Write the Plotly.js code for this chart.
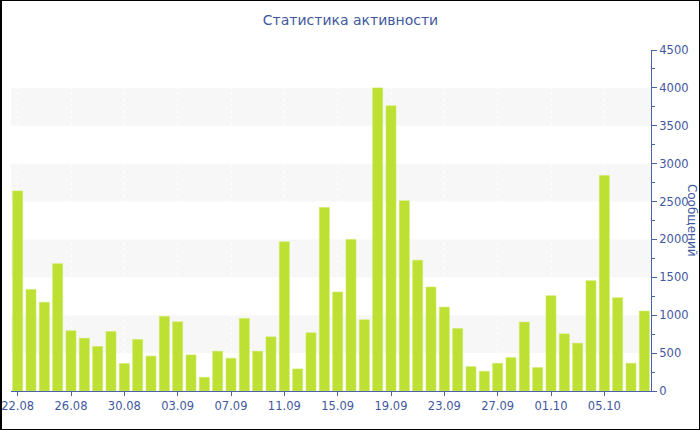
<!DOCTYPE html>
<html>
<head>
<meta charset="utf-8">
<script src="https://cdn.plot.ly/plotly-3.0.1.min.js"></script>
<style>
html,body{margin:0;padding:0;background:#fff;}
#chart{width:700px;height:430px;box-sizing:border-box;border:1px solid #000;border-left-width:2px;}
</style>
</head>
<body>
<div id="chart"></div>
<script>
const dates = ["22.08","23.08","24.08","25.08","26.08","27.08","28.08","29.08","30.08","31.08",
  "01.09","02.09","03.09","04.09","05.09","06.09","07.09","08.09","09.09","10.09",
  "11.09","12.09","13.09","14.09","15.09","16.09","17.09","18.09","19.09","20.09",
  "21.09","22.09","23.09","24.09","25.09","26.09","27.09","28.09","29.09","30.09",
  "01.10","02.10","03.10","04.10","05.10","06.10","07.10","08.10"];
const messages = [2640,1340,1170,1680,795,697,587,785,362,680,
  460,985,913,476,181,525,432,957,525,715,
  1968,291,768,2422,1306,2000,940,4000,3763,2510,
  1725,1372,1107,825,322,260,366,441,909,309,
  1257,754,631,1456,2845,1231,366,1055];
const tickLabels = ["22.08","26.08","30.08","03.09","07.09","11.09","15.09","19.09","23.09","27.09","01.10","05.10"];
const bandStarts = [500,1500,2500,3500];
const bandSize = 500;

const axisBlue = '#4a62a6';
const textBlue = '#3f58a0';

const shapes = bandStarts.map(b => ({
  type:'rect', xref:'paper', yref:'y', x0:0, x1:1, y0:b, y1:b+bandSize,
  fillcolor:'#f7f7f7', line:{width:0}, layer:'below'
}));

Plotly.newPlot('chart', [{
  type:'bar', x:dates, y:messages,
  marker:{color:'#bde032', line:{color:'#cdea62', width:0.6}},
  hoverinfo:'x+y'
}], {
  width:697, height:428,
  margin:{l:9, r:48, t:49, b:38},
  paper_bgcolor:'#ffffff', plot_bgcolor:'#ffffff',
  font:{family:'DejaVu Sans, Verdana, sans-serif', size:11, color:textBlue},
  title:{text:'Статистика активности', x:0.5, xanchor:'center', y:0.955, yanchor:'middle',
    font:{family:'DejaVu Sans, Verdana, sans-serif', size:14, color:textBlue}},
  bargap:0.25,
  showlegend:false,
  xaxis:{type:'category', range:[-0.5, dates.length-0.5],
    tickmode:'array', tickvals:tickLabels, ticktext:tickLabels,
    ticks:'outside', ticklen:4, tickcolor:axisBlue,
    showline:true, linecolor:axisBlue, linewidth:1,
    showgrid:true, gridcolor:'#ffffff', griddash:'dot', gridwidth:1,
    tickfont:{size:11.5, color:textBlue}, fixedrange:true},
  yaxis:{side:'right', range:[0,4500], dtick:500,
    ticks:'outside', ticklen:5, tickcolor:axisBlue,
    minor:{dtick:250, ticks:'outside', ticklen:3, tickcolor:axisBlue, showgrid:false},
    showline:true, linecolor:axisBlue, linewidth:1,
    showgrid:false, zeroline:false,
    tickfont:{size:11.5, color:textBlue}, fixedrange:true},
  shapes:shapes,
  annotations:[{text:'Сообщений', xref:'paper', yref:'paper', x:1.065, y:0.5,
    xanchor:'center', yanchor:'middle', textangle:90, showarrow:false,
    font:{size:12, color:textBlue}}]
}, {displayModeBar:false, staticPlot:true});
</script>
</body>
</html>
